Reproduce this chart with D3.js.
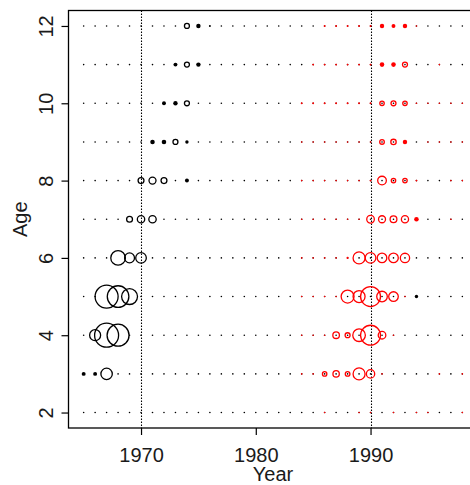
<!DOCTYPE html>
<html>
<head>
<meta charset="utf-8">
<script src="https://cdn.jsdelivr.net/npm/d3@7"></script>
<style>
  body { margin: 0; background: #fff; }
  svg { display: block; font-family: "Liberation Sans", Arial, sans-serif; }
</style>
</head>
<body>
<svg id="chart" width="470" height="485"></svg>
<script>
// years / ages on the grid
var yearsBlack = d3.range(1965, 1999);   // 1965..1998
var yearsRed = d3.range(1984, 1999);     // 1984..1998
var ages = [2, 3, 4, 5, 6, 7, 8, 9, 10, 11, 12];
var xTicks = [1970, 1980, 1990];
var yTicks = [2, 4, 6, 8, 10, 12];
var refYears = [1970, 1990];

// black series, 1965..1998 (groups of 10 years)
var black2  = [0,0,0,0,0,0,0,0,0,0,  0,0,0,0,0,0,0,0,0,0,  0,0,0,0,0,0,0,0,0,0,  0,0,0,0];
var black3  = [1.5,1.5,22.5,0,0,0,0,0,0,0,  0,0,0,0,0,0,0,0,0,0,  0,0,0,0,0,0,0,0,0,0,  0,0,0,0];
var black4  = [0,21,100,84,0,0,0,0,0,0,  0,0,0,0,0,0,0,0,0,0,  0,0,0,0,0,0,0,0,0,0,  0,0,0,0];
var black5  = [0,0,92,81,44,0,0,0,0,0,  0,0,0,0,0,0,0,0,0,0,  0,0,0,0,0,0,0,0,0,1,  0,0,0,0];
var black6  = [0,0,0,37,17,19.5,0,0,0,0,  0,0,0,0,0,0,0,0,0,0,  0,0,0,0,0,0,0,0,0,0,  0,0,0,0];
var black7  = [0,0,0,0,6,9.5,9.5,0,0,0,  0,0,0,0,0,0,0,0,0,0,  0,0,0,0,0,0,0,0,0,0,  0,0,0,0];
var black8  = [0,0,0,0,0,6,8.5,6,0,1.5,  0,0,0,0,0,0,0,0,0,0,  0,0,0,0,0,0,0,0,0,0,  0,0,0,0];
var black9  = [0,0,0,0,0,0,2.2,2.2,4.3,1,  0,0,0,0,0,0,0,0,0,0,  0,0,0,0,0,0,0,0,0,0,  0,0,0,0];
var black10 = [0,0,0,0,0,0,0,1.5,2,4.3,  0,0,0,0,0,0,0,0,0,0,  0,0,0,0,0,0,0,0,0,0,  0,0,0,0];
var black11 = [0,0,0,0,0,0,0,0,1.5,4.3,  2,0.4,0,0,0,0,0,0,0,0,  0,0,0,0,0,0,0,0,0,0,  0,0,0,0];
var black12 = [0,0,0,0,0,0,0,0,0,4.3,  2,0.7,0,0,0,0,0,0,0,0,  0,0,0,0,0,0,0,0,0,0,  0,0,0,0];

// red series, 1984..1998
var red2  = [0,0,0.4,0,0,0.4,0.4,0,0.4,0,0.4,0.4,0,0,0.4];
var red3  = [0.4,0.4,3.4,7,3.7,25,12,0.4,0,0,0,0,0.4,0,0.4];
var red4  = [0.4,0.4,0.4,7.5,4.3,27.5,69,10,0.4,0,0,0,0,0,0];
var red5  = [0.4,0.4,0.4,0.4,29,25,69,19.5,16,0.4,0,0,0,0,0];
var red6  = [0.4,0.4,0.4,0.4,0.8,25,19.5,16,16,15,0,0,0,0,0];
var red7  = [0.4,0.4,0.4,0.4,0.4,0.4,10,8.5,8,9,2.2,0,0,0.4,0];
var red8  = [0.4,0.4,0.4,0.4,0.4,0.4,0.6,13,3.4,3.4,0.6,0,0,0.4,0.4];
var red9  = [0.4,0.4,0.4,0.4,0.4,0.4,0.4,3.7,5,2,0,0.4,0.4,0.4,0.4];
var red10 = [0.6,0.6,0.6,0.6,0.6,0.6,0.6,3.4,4.3,3.4,0.4,0.4,0.4,0.4,0.4];
var red11 = [0,0.6,0.6,0.6,0.6,0.6,0.6,2.2,2.2,4.3,0,0,0.4,0,0];
var red12 = [0,0,0.6,0.6,0.6,0.6,0.6,2,1.5,2,0.4,0,0,0,0];

var blackRows = [black2, black3, black4, black5, black6, black7, black8, black9, black10, black11, black12];
var redRows = [red2, red3, red4, red5, red6, red7, red8, red9, red10, red11, red12];

function toPoints(rows, years, keepZero) {
  var out = [];
  rows.forEach(function(row, i) {
    row.forEach(function(v, j) {
      if (v > 0 || keepZero) out.push({ year: years[j], age: ages[i], value: v });
    });
  });
  return out;
}

var blackPoints = toPoints(blackRows, yearsBlack, true);
var redPoints = toPoints(redRows, yearsRed, false);

var svg = d3.select("#chart");
// plot box ("top" is a window global, so other names here)
var plotLeft = 68.5, plotRight = 477.5, plotTop = 10.5, plotBottom = 428;

var x = d3.scaleLinear().domain([1963.68, 1999.32]).range([plotLeft, plotRight]);
var y = d3.scaleLinear().domain([1.6, 12.4]).range([plotBottom, plotTop]);
var r = d3.scaleSqrt().domain([0, 100]).range([0, 12]);

// dotted reference lines
svg.selectAll(".ref")
  .data(refYears)
  .enter().append("line")
  .attr("class", "ref")
  .attr("x1", function(d) { return Math.round(x(d)) + 0.5; })
  .attr("x2", function(d) { return Math.round(x(d)) + 0.5; })
  .attr("y1", plotTop)
  .attr("y2", plotBottom)
  .attr("stroke", "#000")
  .attr("stroke-width", 1.1)
  .attr("stroke-dasharray", "1.5,1.5");

// small symbols look solid in the reference
var solidBelow = 2.1;

function drawBubbles(points, color) {
  var g = svg.append("g");
  g.selectAll("circle")
    .data(points)
    .enter().append("circle")
    .attr("cx", function(d) { return x(d.year); })
    .attr("cy", function(d) { return y(d.age); })
    .attr("r", function(d) {
      var rr = r(d.value);
      if (rr < 1.1) return Math.max(rr, 0.8);
      if (rr < solidBelow) return rr + 0.5;
      return rr;
    })
    .attr("fill", function(d) { return r(d.value) < solidBelow ? color : "none"; })
    .attr("stroke", function(d) { return r(d.value) < solidBelow ? "none" : color; })
    .attr("stroke-width", 1.3);
}

drawBubbles(blackPoints, "#000");
drawBubbles(redPoints, "#ff0000");

// box
svg.append("rect")
  .attr("x", plotLeft).attr("y", plotTop)
  .attr("width", plotRight - plotLeft).attr("height", plotBottom - plotTop)
  .attr("fill", "none")
  .attr("stroke", "#000")
  .attr("stroke-width", 1.3);

// axes
var xAxis = svg.append("g")
  .attr("transform", "translate(0," + plotBottom + ")")
  .call(d3.axisBottom(x).tickValues(xTicks).tickSize(7).tickFormat(d3.format("d")));
xAxis.select(".domain").remove();
xAxis.selectAll("line").attr("stroke-width", 1.2);
xAxis.selectAll("text")
  .attr("y", 33.7).attr("dy", 0)
  .style("font-size", "20px")
  .style("font-family", "Liberation Sans, Arial, sans-serif")
  .attr("fill", "#1a1a1a");

var yAxis = svg.append("g")
  .attr("transform", "translate(" + plotLeft + ",0)")
  .call(d3.axisLeft(y).tickValues(yTicks).tickSize(7));
yAxis.select(".domain").remove();
yAxis.selectAll("line").attr("stroke-width", 1.2);
yAxis.selectAll("text")
  .attr("transform", "rotate(-90)")
  .attr("x", 0).attr("y", -15.5).attr("dy", 0)
  .style("text-anchor", "middle")
  .style("font-size", "20px")
  .style("font-family", "Liberation Sans, Arial, sans-serif")
  .attr("fill", "#1a1a1a");

// axis titles
svg.append("text")
  .attr("x", (plotLeft + plotRight) / 2)
  .attr("y", 481)
  .attr("text-anchor", "middle")
  .style("font-size", "20px")
  .attr("fill", "#1a1a1a")
  .text("Year");

svg.append("text")
  .attr("transform", "translate(26.5," + (plotTop + plotBottom) / 2 + ") rotate(-90)")
  .attr("text-anchor", "middle")
  .style("font-size", "20px")
  .attr("fill", "#1a1a1a")
  .text("Age");
</script>
</body>
</html>
